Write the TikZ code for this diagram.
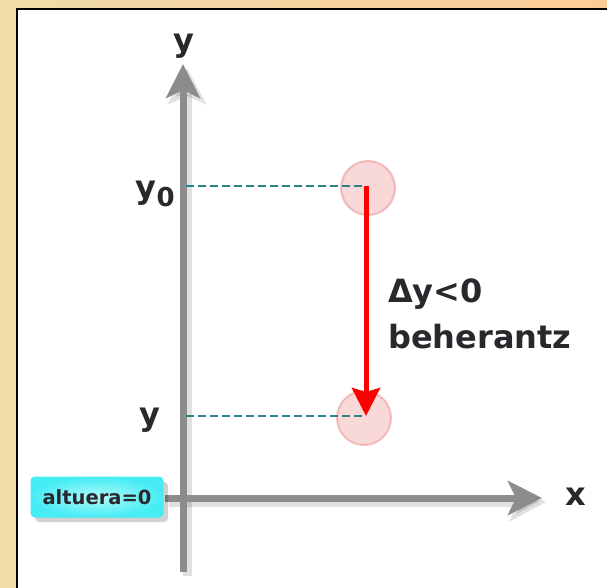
\documentclass[tikz,border=0pt]{standalone}
\usepackage{fontspec}
\setmainfont{DejaVu Sans}
\usetikzlibrary{arrows.meta,calc}
\definecolor{bgL}{RGB}{240,220,168}
\definecolor{bgR}{RGB}{252,204,152}
\definecolor{axisgray}{RGB}{140,140,140}
\definecolor{dashteal}{RGB}{40,130,135}
\definecolor{txt}{RGB}{40,40,45}
\definecolor{cyanout}{RGB}{70,236,244}
\definecolor{cyanin}{RGB}{175,250,252}
\definecolor{circfill}{RGB}{245,185,185}
\definecolor{circedge}{RGB}{235,140,140}
\begin{document}
\begin{tikzpicture}[x=1pt,y=-1pt,
  lbl/.style={text=txt,font=\bfseries\fontsize{32}{32}\selectfont,inner sep=0pt},
  axisline/.style={draw=axisgray,line width=7pt,-{Stealth[width=34pt,length=34pt,inset=8pt]}},
  axisshadow/.style={draw=black,opacity=0.12,line width=9pt,-{Stealth[width=38pt,length=36pt,inset=8pt]}},
  guide/.style={draw=dashteal,line width=2pt,dash pattern=on 8pt off 4pt},
  dot/.style={circle,minimum size=54pt,inner sep=0pt,fill=circfill,fill opacity=0.55,draw=circedge,draw opacity=0.5,line width=2pt},
  movearrow/.style={draw=red,line width=5pt,-{Stealth[width=28pt,length=28pt,inset=4pt]}},
  tag/.style={rounded corners=4pt,minimum width=132pt,minimum height=40pt,inner sep=0pt,draw=cyanout,line width=1pt,inner color=cyanin,outer color=cyanout,text=txt,font=\bfseries\fontsize{19.5}{19.5}\selectfont}
]
\useasboundingbox (0,0) rectangle (607,587);
% background
\shade[left color=bgL,right color=bgR] (0,0) rectangle (607,587);
\filldraw[fill=white,draw=black,line width=2.5pt] (17,9) rectangle (620,600);

% coordinates
\coordinate (ybot) at (183,572);
\coordinate (ytop) at (183,64);
\coordinate (xleft) at (165,498);
\coordinate (xright) at (542,498);
\coordinate (g0a) at (186,186);
\coordinate (g1a) at (186,416);

% shadows of axes
\draw[axisshadow] ($(ybot)+(4,4)$) -- ($(ytop)+(4,4)$);
\draw[axisshadow] ($(xleft)+(4,4)$) -- ($(xright)+(4,4)$);
% axes
\draw[axisline] (ybot) -- (ytop);
\draw[axisline] (xleft) -- (xright);

% circles
\node[dot] (p0) at (368,188) {};
\node[dot] (p1) at (364,418) {};
\coordinate (p0c) at (366,186);
\coordinate (p1c) at (366,416);

% guides
\draw[guide] (g0a) -- (p0c);
\draw[guide] (g1a) -- (p1c);

% motion arrow
\draw[movearrow] (p0c) -- (p1c);

% labels
\node[lbl] (ylab) at (184,46) {y};
\node[lbl,anchor=base east] (y0lab) at (175,198) {y\raisebox{-8pt}{\fontsize{26}{26}\selectfont 0}};
\node[lbl,anchor=base east] (y1lab) at (161,425) {y};
\node[lbl] (xlab) at (576,497) {x};
\node[lbl,anchor=base west] (dlab) at (388,302) {Δy<0};
\node[lbl,anchor=base west] (blab) at (388,348) {beherantz};

% tag with shadow
\fill[black,opacity=0.18,rounded corners=4pt] (35,482) rectangle (168,522);
\node[tag] (tagn) at (97,497) {altuera=0};
\end{tikzpicture}
\end{document}
